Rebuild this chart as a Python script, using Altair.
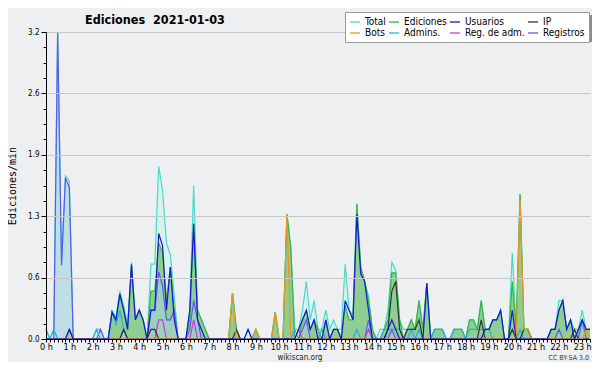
import altair as alt
import pandas as pd

FONT = "DejaVu Sans Condensed, DejaVu Sans"

# 10-minute steps, 00:00 .. 23:20 (hours)
hours = [i / 6 for i in range(141)]

# values in edits per minute, one row per hour (6 x 10 min)
total = [
    0.1, 0, 0.1, 3.2, 0.8, 1.7,
    1.65, 0, 0, 0, 0, 0,
    0, 0.1, 0.1, 0, 0, 0.3,
    0.22, 0.5, 0.35, 0.15, 0.8, 0.2,
    0.3, 0.2, 0, 0.78, 0.78, 1.8,
    1.55, 1.0, 0.88, 0.45, 0, 0,
    0, 0.3, 1.6, 0.3, 0.2, 0.1,
    0, 0, 0, 0, 0, 0,
    0.48, 0.1, 0, 0, 0.1, 0,
    0.1, 0, 0, 0, 0, 0.28,
    0, 0, 1.3, 0.95, 0.1, 0.1,
    0.3, 0.6, 0.2, 0.4, 0.1, 0.1,
    0.3, 0.1, 0.2, 0.1, 0.1, 0.78,
    0.3, 0.25, 1.41, 0.75, 0.6, 0.45,
    0.1, 0, 0.1, 0.1, 0.3, 0.8,
    0.72, 0.2, 0.1, 0.1, 0.2, 0.1,
    0.4, 0.1, 0.58, 0, 0.1, 0.1,
    0.1, 0, 0, 0.1, 0.1, 0.1,
    0, 0.2, 0.2, 0.1, 0.4, 0.1,
    0.1, 0.2, 0.2, 0.3, 0, 0,
    0.9, 0.1, 1.51, 0.1, 0.1, 0,
    0, 0, 0, 0, 0.1, 0.1,
    0.4, 0.4, 0.1, 0.2, 0.1, 0.1,
    0.3, 0.1, 0.1,
]

ediciones = [
    0, 0, 0, 0, 0, 0,
    0.1, 0, 0, 0, 0, 0,
    0, 0, 0, 0, 0, 0.28,
    0.2, 0.45, 0.3, 0.1, 0.75, 0.2,
    0.3, 0.2, 0, 0.5, 0.5, 1.0,
    0.9, 0.4, 0.75, 0.3, 0, 0,
    0, 0.2, 1.2, 0.3, 0.2, 0.1,
    0, 0, 0, 0, 0, 0,
    0.48, 0.1, 0, 0, 0, 0,
    0.1, 0, 0, 0, 0, 0.28,
    0, 0, 1.3, 0.95, 0, 0,
    0.2, 0.3, 0.1, 0.2, 0.1, 0,
    0.2, 0, 0.1, 0.1, 0, 0.35,
    0.2, 0.2, 1.41, 0.75, 0.6, 0.4,
    0.1, 0, 0, 0.1, 0.2, 0.69,
    0.69, 0.2, 0, 0.1, 0.2, 0.1,
    0.4, 0.1, 0.58, 0, 0.1, 0.1,
    0.1, 0, 0, 0.1, 0.1, 0.1,
    0, 0.2, 0.2, 0.1, 0.4, 0.1,
    0.1, 0.2, 0.2, 0.3, 0, 0,
    0.6, 0.1, 1.51, 0.1, 0.1, 0,
    0, 0, 0, 0, 0.1, 0.1,
    0.3, 0.4, 0.1, 0.2, 0, 0.1,
    0.2, 0.1, 0.1,
]

usuarios = [
    0, 0, 0, 0, 0, 0,
    0.1, 0, 0, 0, 0, 0,
    0, 0, 0, 0, 0, 0.28,
    0.2, 0.47, 0.3, 0.1, 0.78, 0.2,
    0.3, 0.2, 0, 0.3, 0.3, 1.1,
    0.97, 0.3, 0.75, 0.2, 0, 0,
    0, 0.3, 1.2, 0.2, 0.1, 0,
    0, 0, 0, 0, 0, 0,
    0, 0, 0, 0, 0.1, 0,
    0, 0, 0, 0, 0, 0,
    0, 0, 0, 0, 0, 0.1,
    0.2, 0.3, 0.1, 0.2, 0, 0,
    0.2, 0, 0.1, 0.1, 0, 0.4,
    0.3, 0.2, 1.3, 0.68, 0.6, 0.3,
    0, 0, 0, 0, 0.1, 0.2,
    0.1, 0, 0, 0, 0, 0,
    0, 0, 0.58, 0, 0, 0,
    0, 0, 0, 0, 0, 0,
    0, 0, 0, 0, 0, 0.1,
    0.1, 0.2, 0.2, 0.3, 0, 0,
    0.3, 0, 0, 0, 0, 0,
    0, 0, 0, 0, 0.1, 0.1,
    0.3, 0.4, 0.1, 0.2, 0, 0.1,
    0.2, 0.1, 0.1,
]

ip = [
    0, 0, 0, 0, 0, 0,
    0, 0, 0, 0, 0, 0,
    0, 0, 0, 0, 0, 0,
    0, 0, 0.1, 0, 0, 0,
    0, 0, 0, 0.1, 0.1, 0,
    0, 0, 0, 0, 0, 0,
    0, 0, 0, 0, 0, 0,
    0, 0, 0, 0, 0, 0,
    0, 0.1, 0, 0, 0, 0,
    0, 0, 0, 0, 0, 0,
    0, 0, 0, 0, 0, 0,
    0, 0, 0, 0, 0, 0,
    0, 0, 0, 0, 0, 0,
    0, 0, 0, 0, 0, 0,
    0, 0, 0, 0, 0.1, 0.5,
    0.6, 0.1, 0, 0.1, 0.1, 0.1,
    0.2, 0, 0, 0, 0, 0,
    0, 0, 0, 0, 0, 0,
    0, 0, 0, 0, 0.2, 0,
    0, 0, 0, 0, 0, 0,
    0.1, 0, 0, 0.1, 0.1, 0,
    0, 0, 0, 0, 0, 0,
    0, 0, 0, 0, 0.1, 0,
    0, 0, 0,
]

bots = [
    0, 0, 0, 0, 0, 0,
    0, 0, 0, 0, 0, 0,
    0, 0, 0, 0, 0, 0,
    0, 0, 0, 0, 0, 0,
    0, 0, 0, 0, 0, 0,
    0, 0, 0, 0, 0, 0,
    0, 0, 0, 0, 0, 0,
    0, 0, 0, 0, 0, 0,
    0.48, 0, 0, 0, 0, 0,
    0.1, 0, 0, 0, 0, 0.28,
    0, 0, 1.3, 0, 0, 0,
    0, 0, 0, 0, 0, 0,
    0, 0, 0, 0, 0, 0,
    0, 0, 0, 0, 0, 0,
    0, 0, 0, 0, 0, 0,
    0, 0, 0, 0, 0, 0,
    0, 0, 0, 0, 0, 0,
    0, 0, 0, 0, 0, 0,
    0, 0, 0, 0, 0, 0,
    0, 0, 0, 0, 0, 0,
    0, 0, 1.45, 0.1, 0.1, 0,
    0, 0, 0, 0, 0, 0,
    0, 0, 0, 0, 0, 0,
    0, 0.1, 0,
]

admins = [
    0.1, 0, 0.1, 0, 0, 0,
    0, 0, 0, 0, 0, 0,
    0, 0.1, 0, 0, 0, 0.28,
    0.15, 0.3, 0.1, 0, 0, 0,
    0, 0, 0, 0, 0, 0,
    0, 0, 0, 0, 0, 0,
    0, 0, 0, 0, 0, 0,
    0, 0, 0, 0, 0, 0,
    0, 0, 0, 0, 0, 0,
    0, 0, 0, 0, 0, 0,
    0, 0, 0, 0, 0.1, 0,
    0, 0, 0, 0, 0, 0.1,
    0, 0, 0, 0, 0, 0,
    0, 0, 0.1, 0, 0, 0,
    0, 0, 0, 0.1, 0.1, 0.1,
    0.1, 0.1, 0, 0, 0.1, 0,
    0.1, 0, 0, 0, 0.1, 0.1,
    0.1, 0, 0, 0.1, 0.1, 0.1,
    0, 0.1, 0.1, 0.1, 0.1, 0.1,
    0.1, 0, 0, 0, 0, 0,
    0, 0, 0.1, 0, 0, 0,
    0, 0, 0, 0, 0, 0,
    0, 0, 0, 0, 0, 0,
    0, 0, 0,
]

reg_adm = [
    0, 0, 0, 0, 0, 0,
    0, 0, 0, 0, 0, 0,
    0, 0, 0, 0, 0, 0,
    0, 0, 0, 0, 0, 0,
    0, 0, 0, 0, 0, 0.2,
    0.2, 0, 0, 0, 0, 0,
    0, 0, 0.2, 0, 0, 0,
    0, 0, 0, 0, 0, 0,
    0, 0, 0, 0, 0, 0,
    0, 0, 0, 0, 0, 0,
    0, 0, 0, 0, 0, 0.1,
    0, 0, 0, 0, 0, 0,
    0, 0, 0, 0, 0, 0,
    0, 0, 0, 0, 0, 0.1,
    0, 0, 0, 0, 0, 0,
    0, 0, 0, 0, 0, 0,
    0, 0, 0, 0, 0, 0,
    0, 0, 0, 0, 0, 0,
    0, 0, 0, 0, 0, 0,
    0, 0, 0, 0, 0, 0,
    0, 0, 0, 0, 0, 0,
    0, 0, 0, 0, 0, 0,
    0, 0, 0, 0, 0, 0,
    0, 0, 0,
]

registros = [
    0, 0, 0, 3.2, 0.77, 1.68,
    1.58, 0, 0, 0, 0, 0,
    0, 0, 0.1, 0, 0, 0,
    0, 0, 0.1, 0, 0, 0,
    0, 0, 0, 0.3, 0.3, 0.7,
    0.55, 0.2, 0.2, 0.3, 0, 0,
    0, 0.1, 0.4, 0.2, 0, 0,
    0, 0, 0, 0, 0, 0,
    0, 0, 0, 0, 0, 0,
    0, 0, 0, 0, 0, 0,
    0, 0, 0, 0, 0, 0,
    0.1, 0.2, 0, 0, 0, 0,
    0, 0, 0, 0, 0, 0,
    0, 0, 0, 0, 0, 0.2,
    0, 0, 0, 0, 0, 0.1,
    0, 0, 0, 0, 0, 0,
    0, 0, 0, 0, 0, 0,
    0, 0, 0, 0, 0, 0,
    0, 0, 0, 0, 0, 0,
    0, 0, 0, 0, 0, 0,
    0, 0, 0, 0, 0, 0,
    0, 0, 0, 0, 0, 0,
    0.1, 0, 0, 0, 0, 0,
    0.2, 0, 0,
]

series_values = {
    "Total": total, "Ediciones": ediciones, "Usuarios": usuarios, "IP": ip,
    "Bots": bots, "Admins.": admins, "Reg. de adm.": reg_adm, "Registros": registros,
}
series_colors = {
    "Total": "#44dccb", "Ediciones": "#3cb43c", "Usuarios": "#1616d6", "IP": "#333333",
    "Bots": "#f0961e", "Admins.": "#22b2dc", "Reg. de adm.": "#c83ad8", "Registros": "#5a5af0",
}
# legend is filled column by column (2 rows x 4 columns)
legend_order = ["Total", "Bots", "Ediciones", "Admins.",
                "Usuarios", "Reg. de adm.", "IP", "Registros"]

y_ticks = [0, 0.16, 0.32, 0.48, 0.64, 0.8, 0.96, 1.12, 1.28, 1.44, 1.6,
           1.76, 1.92, 2.08, 2.24, 2.4, 2.56, 2.72, 2.88, 3.04, 3.2]

frames = {name: pd.DataFrame({"hora": hours, "valor": vals, "serie": name})
          for name, vals in series_values.items()}

PLOT_W, PLOT_H = 544, 307
major_test = "round(datum.value * 100) % 64 == 0"

x_axis = alt.Axis(
    values=hours, title=None, grid=False, zindex=1,
    labelExpr="datum.value % 1 == 0 ? datum.value + ' h' : ''",
    labelFont=FONT, labelFontSize=9, labelColor="black",
    labelFlush=False, labelOverlap=False, labelPadding=0,
    tickSize=3, tickColor="black", domainColor="black",
)
y_axis = alt.Axis(
    values=y_ticks, title="Ediciones/min", zindex=1,
    labelExpr=major_test + " ? format(datum.value, '.1f') : ''",
    labelFont=FONT, labelFontSize=8, labelColor="black", labelPadding=2,
    labelOverlap=False, labelFlush=False,
    tickSize={"condition": {"test": major_test, "value": 5}, "value": 3},
    tickColor="black", domainColor="black",
    grid=True, gridColor="#c8c8c8",
    gridOpacity={"condition": {"test": major_test, "value": 1}, "value": 0},
    titleFont="DejaVu Sans Mono", titleFontSize=10, titleFontWeight="normal",
    titleColor="black", titleAngle=270, titleX=-34, titleY=PLOT_H / 2,
    titleAlign="center", titleBaseline="middle",
)

x_enc = alt.X("hora:Q", scale=alt.Scale(domain=[0, 140 / 6], nice=False, zero=False), axis=x_axis)
y_enc = alt.Y("valor:Q", scale=alt.Scale(domain=[0, 3.2], nice=False), axis=y_axis)

legend = alt.Legend(
    title=None, orient="none", legendX=299, legendY=-20, columns=4,
    symbolType="stroke", symbolSize=100, symbolStrokeWidth=1.3,
    labelFont=FONT, labelFontSize=10, labelColor="black", labelOffset=4,
    fillColor="white", strokeColor="#9a9a9a", padding=4,
    columnPadding=0, rowPadding=0, gridAlign="each", zindex=2,
)
color_enc = alt.Color(
    "serie:N",
    scale=alt.Scale(domain=legend_order, range=[series_colors[n] for n in legend_order]),
    legend=legend,
)

one = pd.DataFrame({"k": [0]})

layers = []
layers.append(alt.Chart(frames["Total"]).mark_area(color="#d9f2ec").encode(x=x_enc, y=y_enc))
layers.append(alt.Chart(frames["Ediciones"]).mark_area(color="#7cc47c", opacity=0.8).encode(x=x_enc, y=y_enc))
layers.append(alt.Chart(frames["Registros"]).mark_area(color="#a8cfe0", opacity=0.55).encode(x=x_enc, y=y_enc))

# legend shadow (decoration)
layers.append(alt.Chart(one).mark_rect(color="#8a8a8a").encode(
    x=alt.value(302), x2=alt.value(549), y=alt.value(-17), y2=alt.value(10)))

for name in ["Total", "Ediciones", "Registros", "Admins.", "Reg. de adm.", "IP", "Bots", "Usuarios"]:
    layers.append(
        alt.Chart(frames[name]).mark_line(strokeWidth=1.2).encode(x=x_enc, y=y_enc, color=color_enc)
    )

# title and footer texts
layers.append(alt.Chart(one).mark_text(
    text="Ediciones\u00a0 2021-01-03", font=FONT, fontSize=12.5, fontWeight="bold",
    color="black", align="left", baseline="alphabetic").encode(
    x=alt.value(39), y=alt.value(-8)))
layers.append(alt.Chart(one).mark_text(
    text="wikiscan.org", font=FONT, fontSize=8, color="#222222",
    align="center", baseline="alphabetic").encode(
    x=alt.value(254), y=alt.value(PLOT_H + 21)))
layers.append(alt.Chart(one).mark_text(
    text="CC BY-SA 3.0", font=FONT, fontSize=7, color="#333333",
    align="right", baseline="alphabetic").encode(
    x=alt.value(543), y=alt.value(PLOT_H + 21)))

chart = alt.layer(*layers).properties(
    width=PLOT_W, height=PLOT_H,
    padding={"left": 38, "top": 24, "right": 2, "bottom": 354 - 24 - PLOT_H},
    autosize=alt.AutoSizeParams(type="none"),
    background="#eeeff0",
).configure_view(strokeWidth=0)

chart.save("out.html", embed_options={"renderer": "svg", "actions": False})
